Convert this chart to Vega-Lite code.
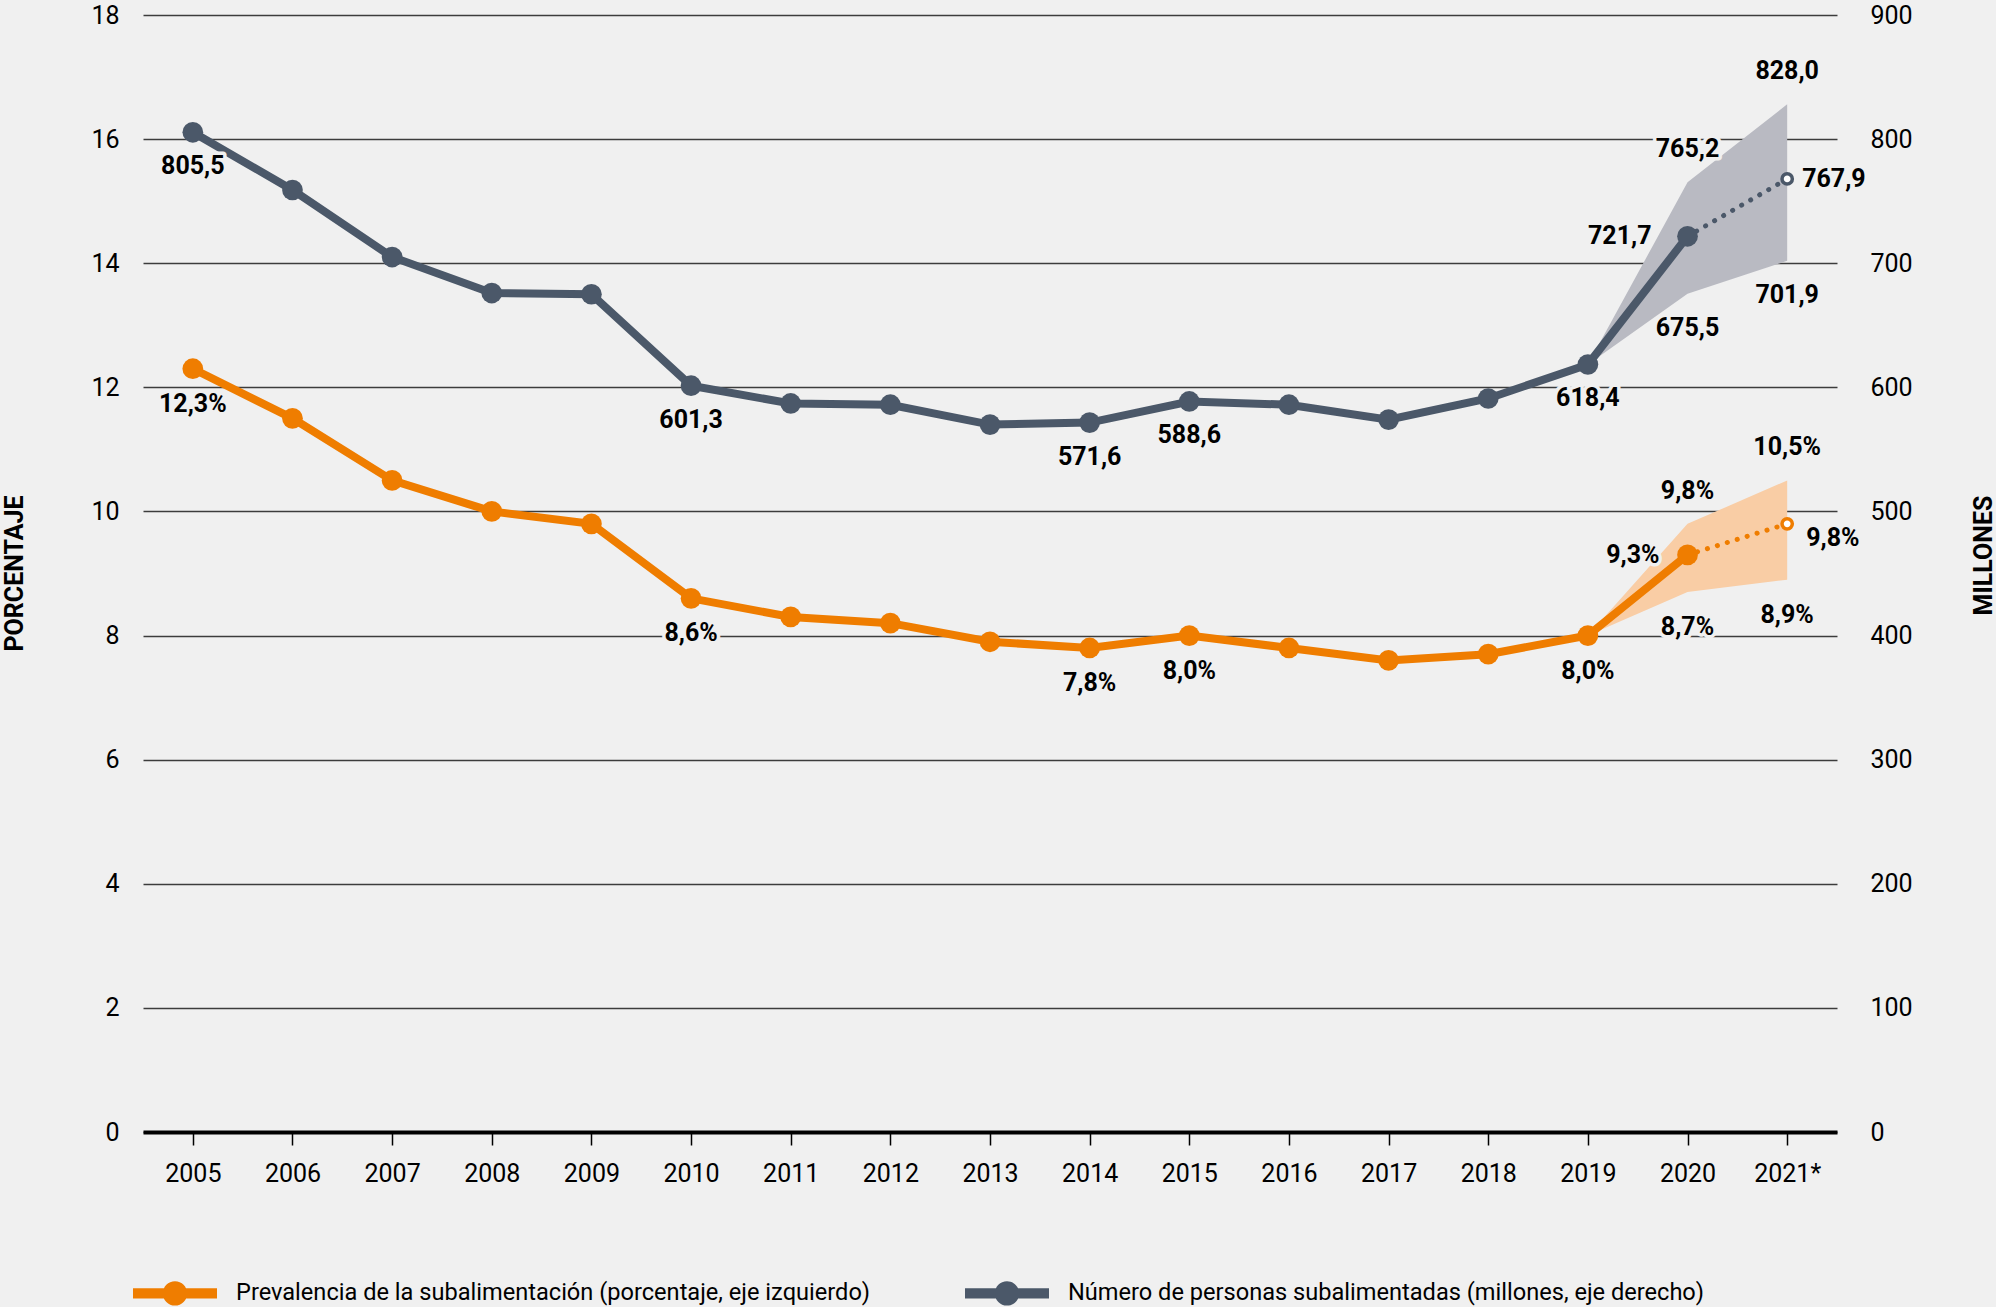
{
  "$schema": "https://vega.github.io/schema/vega-lite/v6.json",
  "width": 1694,
  "height": 1117,
  "autosize": {"type": "none"},
  "padding": {"left": 143, "top": 15, "right": 159, "bottom": 175},
  "background": "#f0f0f0",
  "config": {
    "font": "Roboto",
    "view": {"stroke": null},
    "text": {"fontSize": 25, "fontWeight": "bold", "baseline": "middle", "font": "Roboto"},
    "axisX": {
      "title": null, "labelAngle": 0, "labelFontSize": 25, "labelColor": "#000000", "labelFont": "Roboto",
      "tickColor": "#000000", "tickSize": 13, "tickWidth": 1.5, "labelPadding": 16,
      "domainColor": "#000000", "domainWidth": 4, "grid": false
    }
  },
  "datasets": {
    "series": [
      {"year": "2005", "pou": 12.3, "num": 805.5},
      {"year": "2006", "pou": 11.5, "num": 759.0},
      {"year": "2007", "pou": 10.5, "num": 705.0},
      {"year": "2008", "pou": 10.0, "num": 676.0},
      {"year": "2009", "pou": 9.8, "num": 675.0},
      {"year": "2010", "pou": 8.6, "num": 601.3},
      {"year": "2011", "pou": 8.3, "num": 587.0},
      {"year": "2012", "pou": 8.2, "num": 586.0},
      {"year": "2013", "pou": 7.9, "num": 570.0},
      {"year": "2014", "pou": 7.8, "num": 571.6},
      {"year": "2015", "pou": 8.0, "num": 588.6},
      {"year": "2016", "pou": 7.8, "num": 586.0},
      {"year": "2017", "pou": 7.6, "num": 574.0},
      {"year": "2018", "pou": 7.7, "num": 591.0},
      {"year": "2019", "pou": 8.0, "num": 618.4},
      {"year": "2020", "pou": 9.3, "num": 721.7},
      {"year": "2021*", "pou": 9.8, "num": 767.9}
    ],
    "bands": [
      {"year": "2019", "pou_lo": 8.0, "pou_hi": 8.0, "num_lo": 618.4, "num_hi": 618.4},
      {"year": "2020", "pou_lo": 8.7, "pou_hi": 9.8, "num_lo": 675.5, "num_hi": 765.2},
      {"year": "2021*", "pou_lo": 8.9, "pou_hi": 10.5, "num_lo": 701.9, "num_hi": 828.0}
    ],
    "labels": [
      {"series": "num", "year": "2005", "value": 805.5, "text": "805,5", "pos": "below"},
      {"series": "num", "year": "2010", "value": 601.3, "text": "601,3", "pos": "below"},
      {"series": "num", "year": "2014", "value": 571.6, "text": "571,6", "pos": "below"},
      {"series": "num", "year": "2015", "value": 588.6, "text": "588,6", "pos": "below"},
      {"series": "num", "year": "2019", "value": 618.4, "text": "618,4", "pos": "below"},
      {"series": "num", "year": "2020", "value": 721.7, "text": "721,7", "pos": "left"},
      {"series": "num", "year": "2020", "value": 765.2, "text": "765,2", "pos": "above"},
      {"series": "num", "year": "2020", "value": 675.5, "text": "675,5", "pos": "below"},
      {"series": "num", "year": "2021*", "value": 828.0, "text": "828,0", "pos": "above"},
      {"series": "num", "year": "2021*", "value": 701.9, "text": "701,9", "pos": "below"},
      {"series": "num", "year": "2021*", "value": 767.9, "text": "767,9", "pos": "right"},
      {"series": "pou", "year": "2005", "value": 12.3, "text": "12,3%", "pos": "below"},
      {"series": "pou", "year": "2010", "value": 8.6, "text": "8,6%", "pos": "below"},
      {"series": "pou", "year": "2014", "value": 7.8, "text": "7,8%", "pos": "below"},
      {"series": "pou", "year": "2015", "value": 8.0, "text": "8,0%", "pos": "below"},
      {"series": "pou", "year": "2019", "value": 8.0, "text": "8,0%", "pos": "below"},
      {"series": "pou", "year": "2020", "value": 9.3, "text": "9,3%", "pos": "left"},
      {"series": "pou", "year": "2020", "value": 9.8, "text": "9,8%", "pos": "above"},
      {"series": "pou", "year": "2020", "value": 8.7, "text": "8,7%", "pos": "below"},
      {"series": "pou", "year": "2021*", "value": 10.5, "text": "10,5%", "pos": "above"},
      {"series": "pou", "year": "2021*", "value": 8.9, "text": "8,9%", "pos": "below"},
      {"series": "pou", "year": "2021*", "value": 9.8, "text": "9,8%", "pos": "right"}
    ]
  },
  "layer": [
    {
      "data": {"name": "bands"},
      "mark": {"type": "area", "color": "#f9cda5", "opacity": 1},
      "encoding": {
        "x": {
          "field": "year", "type": "ordinal", "title": null,
          "scale": {"type": "point", "padding": 0.5, "domain": ["2005","2006","2007","2008","2009","2010","2011","2012","2013","2014","2015","2016","2017","2018","2019","2020","2021*"]},
          "axis": {
            "title": null, "labelAngle": 0, "labelFontSize": 25, "labelColor": "#000000", "labelFont": "Roboto",
            "tickColor": "#000000", "tickSize": 13, "tickWidth": 1.5, "labelPadding": 16,
            "domainColor": "#000000", "domainWidth": 4, "grid": false
          }
        },
        "y": {
          "field": "pou_lo", "type": "quantitative",
          "scale": {"domain": [0, 18], "nice": false, "zero": true},
          "axis": {
            "values": [0, 2, 4, 6, 8, 10, 12, 14, 16, 18],
            "title": "PORCENTAJE", "titleFontSize": 25, "titleFontWeight": "bold", "titleColor": "#000000", "titleFont": "Roboto",
            "titleAngle": 270, "titleX": -129, "titleY": 558, "titleAlign": "center", "titleBaseline": "middle",
            "labelFontSize": 25, "labelColor": "#000000", "labelPadding": 24, "labelFont": "Roboto",
            "ticks": false, "domain": false, "grid": true, "gridColor": "#3c3c3c", "gridWidth": 1.5
          }
        },
        "y2": {"field": "pou_hi"}
      }
    },
    {
      "data": {"name": "bands"},
      "mark": {"type": "area", "color": "#b9bac2", "opacity": 1},
      "encoding": {
        "x": {"field": "year", "type": "ordinal", "title": null},
        "y": {
          "field": "num_lo", "type": "quantitative",
          "scale": {"domain": [0, 900], "nice": false, "zero": true},
          "axis": {
            "orient": "right",
            "values": [0, 100, 200, 300, 400, 500, 600, 700, 800, 900],
            "title": "MILLONES", "titleFontSize": 25, "titleFontWeight": "bold", "titleColor": "#000000", "titleFont": "Roboto",
            "titleAngle": 270, "titleX": 146, "titleY": 540, "titleAlign": "center", "titleBaseline": "middle",
            "labelFontSize": 25, "labelColor": "#000000", "labelPadding": 33, "labelFont": "Roboto",
            "ticks": false, "domain": false, "grid": false
          }
        },
        "y2": {"field": "num_hi"}
      }
    },
    {
      "layer": [
        {
          "data": {"name": "series"},
          "transform": [{"filter": "datum.year !== '2021*'"}],
          "mark": {"type": "line", "color": "#ef7d00", "strokeWidth": 8},
          "encoding": {
            "x": {"field": "year", "type": "ordinal", "title": null},
            "y": {"field": "pou", "type": "quantitative", "scale": {"domain": [0, 18], "nice": false}, "axis": null}
          }
        },
        {
          "data": {"name": "series"},
          "transform": [{"filter": "datum.year === '2020' || datum.year === '2021*'"}],
          "mark": {"type": "line", "color": "#ef7d00", "strokeWidth": 5, "strokeDash": [0.1, 10.3], "strokeCap": "round"},
          "encoding": {
            "x": {"field": "year", "type": "ordinal", "title": null},
            "y": {"field": "pou", "type": "quantitative", "scale": {"domain": [0, 18], "nice": false}, "axis": null}
          }
        },
        {
          "data": {"name": "series"},
          "transform": [{"filter": "datum.year !== '2021*'"}],
          "mark": {"type": "point", "shape": "circle", "filled": true, "size": 430, "opacity": 1},
          "encoding": {
            "x": {"field": "year", "type": "ordinal", "title": null},
            "y": {"field": "pou", "type": "quantitative", "scale": {"domain": [0, 18], "nice": false}, "axis": null},
            "color": {
              "datum": "Prevalencia de la subalimentación (porcentaje, eje izquierdo)",
              "scale": {
                "domain": ["Prevalencia de la subalimentación (porcentaje, eje izquierdo)", "Número de personas subalimentadas (millones, eje derecho)"],
                "range": ["#ef7d00", "#4b5869"]
              },
              "legend": {
                "orient": "none", "legendX": -10, "legendY": 1236, "direction": "horizontal", "title": null,
                "symbolType": "M-1,-0.12H-0.26V0.12H-1Z M0.26,-0.12H1V0.12H0.26Z M0.29,0A0.29,0.29 0 1,1 -0.29,0A0.29,0.29 0 1,1 0.29,0Z",
                "symbolSize": 7056, "symbolStrokeWidth": 0, "symbolOpacity": 1,
                "labelFontSize": 23.6, "labelColor": "#000000", "labelFont": "Roboto", "labelOffset": 19,
                "columnPadding": 94, "labelLimit": 1200, "padding": 0
              }
            }
          }
        },
        {
          "data": {"name": "series"},
          "transform": [{"filter": "datum.year === '2021*'"}],
          "mark": {"type": "point", "shape": "circle", "filled": true, "fill": "#ffffff", "stroke": "#ef7d00", "strokeWidth": 3.5, "size": 106, "opacity": 1},
          "encoding": {
            "x": {"field": "year", "type": "ordinal", "title": null},
            "y": {"field": "pou", "type": "quantitative", "scale": {"domain": [0, 18], "nice": false}, "axis": null}
          }
        },
        {
          "data": {"name": "labels"},
          "transform": [{"filter": "datum.series === 'pou'"}],
          "encoding": {
            "x": {"field": "year", "type": "ordinal", "title": null},
            "y": {"field": "value", "type": "quantitative", "scale": {"domain": [0, 18], "nice": false}, "axis": null},
            "text": {"field": "text"}
          },
          "layer": [
            {
              "transform": [{"filter": "datum.pos === 'below'"}],
              "layer": [
                {"mark": {"type": "text", "dy": 35, "stroke": "#f0f0f0", "strokeWidth": 7, "strokeJoin": "round", "color": "#f0f0f0"}},
                {"mark": {"type": "text", "dy": 35, "color": "#000000"}}
              ]
            },
            {
              "transform": [{"filter": "datum.pos === 'above'"}],
              "layer": [
                {"mark": {"type": "text", "dy": -33, "stroke": "#f0f0f0", "strokeWidth": 7, "strokeJoin": "round", "color": "#f0f0f0"}},
                {"mark": {"type": "text", "dy": -33, "color": "#000000"}}
              ]
            },
            {
              "transform": [{"filter": "datum.pos === 'left'"}],
              "layer": [
                {"mark": {"type": "text", "dx": -28, "align": "right", "stroke": "#f0f0f0", "strokeWidth": 7, "strokeJoin": "round", "color": "#f0f0f0"}},
                {"mark": {"type": "text", "dx": -28, "align": "right", "color": "#000000"}}
              ]
            },
            {
              "transform": [{"filter": "datum.pos === 'right'"}],
              "layer": [
                {"mark": {"type": "text", "dx": 19, "dy": 14, "align": "left", "stroke": "#f0f0f0", "strokeWidth": 7, "strokeJoin": "round", "color": "#f0f0f0"}},
                {"mark": {"type": "text", "dx": 19, "dy": 14, "align": "left", "color": "#000000"}}
              ]
            }
          ]
        }
      ]
    },
    {
      "layer": [
        {
          "data": {"name": "series"},
          "transform": [{"filter": "datum.year !== '2021*'"}],
          "mark": {"type": "line", "color": "#4b5869", "strokeWidth": 8},
          "encoding": {
            "x": {"field": "year", "type": "ordinal", "title": null},
            "y": {"field": "num", "type": "quantitative", "scale": {"domain": [0, 900], "nice": false}, "axis": null}
          }
        },
        {
          "data": {"name": "series"},
          "transform": [{"filter": "datum.year === '2020' || datum.year === '2021*'"}],
          "mark": {"type": "line", "color": "#4b5869", "strokeWidth": 5, "strokeDash": [0.1, 10.3], "strokeCap": "round"},
          "encoding": {
            "x": {"field": "year", "type": "ordinal", "title": null},
            "y": {"field": "num", "type": "quantitative", "scale": {"domain": [0, 900], "nice": false}, "axis": null}
          }
        },
        {
          "data": {"name": "series"},
          "transform": [{"filter": "datum.year !== '2021*'"}],
          "mark": {"type": "point", "shape": "circle", "filled": true, "size": 430, "opacity": 1},
          "encoding": {
            "x": {"field": "year", "type": "ordinal", "title": null},
            "y": {"field": "num", "type": "quantitative", "scale": {"domain": [0, 900], "nice": false}, "axis": null},
            "color": {"datum": "Número de personas subalimentadas (millones, eje derecho)"}
          }
        },
        {
          "data": {"name": "series"},
          "transform": [{"filter": "datum.year === '2021*'"}],
          "mark": {"type": "point", "shape": "circle", "filled": true, "fill": "#ffffff", "stroke": "#4b5869", "strokeWidth": 3.5, "size": 106, "opacity": 1},
          "encoding": {
            "x": {"field": "year", "type": "ordinal", "title": null},
            "y": {"field": "num", "type": "quantitative", "scale": {"domain": [0, 900], "nice": false}, "axis": null}
          }
        },
        {
          "data": {"name": "labels"},
          "transform": [{"filter": "datum.series === 'num'"}],
          "encoding": {
            "x": {"field": "year", "type": "ordinal", "title": null},
            "y": {"field": "value", "type": "quantitative", "scale": {"domain": [0, 900], "nice": false}, "axis": null},
            "text": {"field": "text"}
          },
          "layer": [
            {
              "transform": [{"filter": "datum.pos === 'below'"}],
              "layer": [
                {"mark": {"type": "text", "dy": 34, "stroke": "#f0f0f0", "strokeWidth": 7, "strokeJoin": "round", "color": "#f0f0f0"}},
                {"mark": {"type": "text", "dy": 34, "color": "#000000"}}
              ]
            },
            {
              "transform": [{"filter": "datum.pos === 'above'"}],
              "layer": [
                {"mark": {"type": "text", "dy": -33, "stroke": "#f0f0f0", "strokeWidth": 7, "strokeJoin": "round", "color": "#f0f0f0"}},
                {"mark": {"type": "text", "dy": -33, "color": "#000000"}}
              ]
            },
            {
              "transform": [{"filter": "datum.pos === 'left'"}],
              "layer": [
                {"mark": {"type": "text", "dx": -36, "align": "right", "stroke": "#f0f0f0", "strokeWidth": 7, "strokeJoin": "round", "color": "#f0f0f0"}},
                {"mark": {"type": "text", "dx": -36, "align": "right", "color": "#000000"}}
              ]
            },
            {
              "transform": [{"filter": "datum.pos === 'right'"}],
              "layer": [
                {"mark": {"type": "text", "dx": 15, "align": "left", "stroke": "#f0f0f0", "strokeWidth": 7, "strokeJoin": "round", "color": "#f0f0f0"}},
                {"mark": {"type": "text", "dx": 15, "align": "left", "color": "#000000"}}
              ]
            }
          ]
        }
      ]
    }
  ],
  "resolve": {"scale": {"y": "independent"}}
}
